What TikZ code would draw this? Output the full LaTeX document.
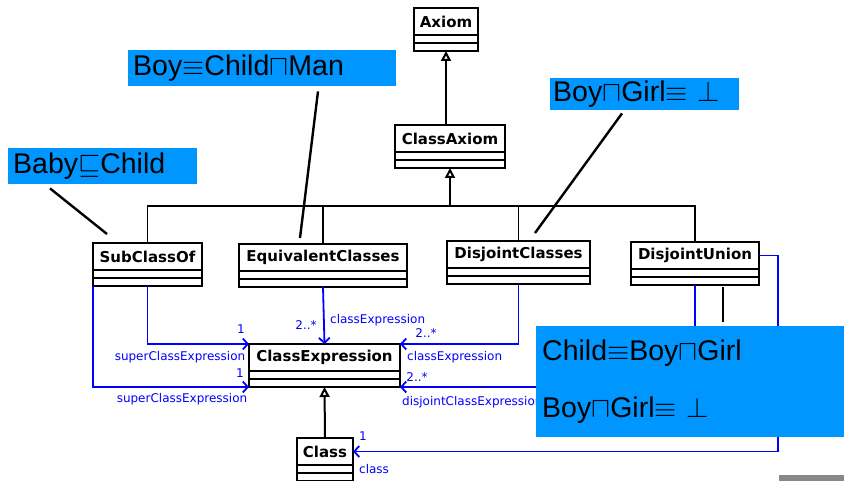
\RequirePackage{fix-cm}
\documentclass[tikz,border=0pt]{standalone}
\usepackage{fontspec}
\setmainfont{Liberation Sans}
\newfontfamily\umlfont{DejaVu Sans}
\usetikzlibrary{arrows.meta, positioning, calc}

\definecolor{notefill}{RGB}{0,150,255}
\definecolor{barGray}{RGB}{136,136,136}

\newcommand\clsfont{\umlfont\bfseries\fontsize{15}{18}\selectfont}
\newcommand\rolefont{\umlfont\fontsize{12}{14}\selectfont}
\newcommand\annfont{\fontsize{28.5}{34}\selectfont}

% class box: name compartment plus two empty ones below it
\newcommand\umlclass[5]{%
  \node[clsname, minimum width=#4] (#1) at (#2,#3) {#5};
  \node[clscomp, minimum width=#4, below=0pt of #1] (#1-c) {};
}

\begin{document}
\begin{tikzpicture}[x=1pt, y=-1pt,
  clsname/.style={draw, line width=1.8pt, fill=white, font=\clsfont,
                  minimum height=27pt, inner sep=0pt, outer sep=0pt, anchor=north west},
  clscomp/.style={draw, line width=1.8pt, fill=white, minimum height=16pt,
                  inner sep=0pt, outer sep=0pt,
                  path picture={\draw[line width=1.8pt] (path picture bounding box.west)
                                -- (path picture bounding box.east);}},
  tree/.style={line width=1.7pt},
  gen/.style={line width=2pt, -{Triangle[open, length=10pt, width=10pt]}},
  assoc/.style={blue, line width=1.8pt, -{Straight Barb[length=5pt, width=11pt]}},
  role/.style={blue, font=\rolefont, inner sep=0pt},
  axnote/.style={fill=notefill, font=\annfont, anchor=north west, align=left, inner ysep=0pt},
  noteline/.style={line width=2.4pt}
]
  \useasboundingbox (0,0) rectangle (844,481);

  % classes
  \umlclass{ax}{414}{8}{64}{Axiom}
  \umlclass{cax}{395}{125}{110}{ClassAxiom}
  \umlclass{sub}{93}{243}{109}{SubClassOf}
  \umlclass{eq}{239}{244}{168}{EquivalentClasses}
  \umlclass{dc}{447}{241}{143}{DisjointClasses}
  \umlclass{du}{631}{242}{128}{DisjointUnion}
  \umlclass{ce}{249}{344}{151}{ClassExpression}
  \umlclass{cl}{297}{438}{56}{Class}

  % generalisations
  \coordinate (bus) at (450,206);
  \draw[gen] (cax.north -| ax-c.south) -- (ax-c.south);
  \draw[tree] (sub.north) |- (du.north |- bus) -- (du.north);
  \draw[tree] (eq.north) -- (eq.north |- bus);
  \draw[tree] (dc.north) -- (dc.north |- bus);
  \draw[gen] (bus) -- (cax-c.south);
  \draw[gen] (cl.north) -- (ce-c.south);

  % associations
  \draw[assoc] (sub-c.south) |- (ce.north west);
  \draw[assoc] (sub-c.south west) |- (ce-c.south west);
  \draw[assoc] (eq-c.south) -- (ce.north);
  \draw[assoc] (dc-c.south) |- (ce.north east);
  \draw[assoc] (du-c.south) |- (ce-c.south east);
  \draw[assoc] (du.east) -- ++(19,0) |- (cl.east);

  % roles and multiplicities
  \node[role] (m-sup1) at (241,329) {1};
  \node[role] (r-sup1) at (180,357) {superClassExpression};
  \node[role] (m-sup2) at (240,373) {1};
  \node[role] (r-sup2) at (182,399) {superClassExpression};
  \node[role] (m-eq) at (306,325) {2..*};
  \node[role, anchor=west] (r-eq) at (330,320) {classExpression};
  \node[role] (m-dc) at (426,333) {2..*};
  \node[role, anchor=west] (r-dc) at (407,357) {classExpression};
  \node[role] (m-du) at (417,377) {2..*};
  \node[role, anchor=west] (r-du) at (402,402) {disjointClassExpression};
  \node[role] (m-cl) at (363,436) {1};
  \node[role, anchor=west] (r-cl) at (359,469) {class};

  % notes
  \node[axnote, text width=179, inner xsep=5, minimum height=36] (babynote) at (8,148)
    {Baby$\sqsubseteq$Child};
  \node[axnote, text width=258, inner xsep=5, minimum height=36] (boynote) at (128,50)
    {Boy$\equiv$Child$\sqcap$Man};
  \node[axnote, text width=183, inner xsep=3, minimum height=32] (disnote) at (550,78)
    {Boy$\sqcap$Girl$\equiv$ $\bot$};
  \node[axnote, text width=298, inner xsep=6, minimum height=111,
        font=\fontsize{28.5}{57}\selectfont] (bignote) at (536,326)
    {Child$\equiv$Boy$\sqcap$Girl\\Boy$\sqcap$Girl$\equiv$ $\bot$};

  \draw[noteline] ($(babynote.south west)+(42,4)$) -- ($(sub.north west)+(14,-9)$);
  \draw[noteline] ($(boynote.south west)+(190,5)$) -- ($(eq.north west)+(61,-6)$);
  \draw[noteline] ($(disnote.south west)+(72,3)$) -- ($(dc.north west)+(88,-8)$);
  \draw[noteline] ($(du-c.south)+(28,2)$) -- ($(bignote.north west)+(187,-4)$);

  \fill[barGray] (779,475) rectangle (844,481);
\end{tikzpicture}
\end{document}
